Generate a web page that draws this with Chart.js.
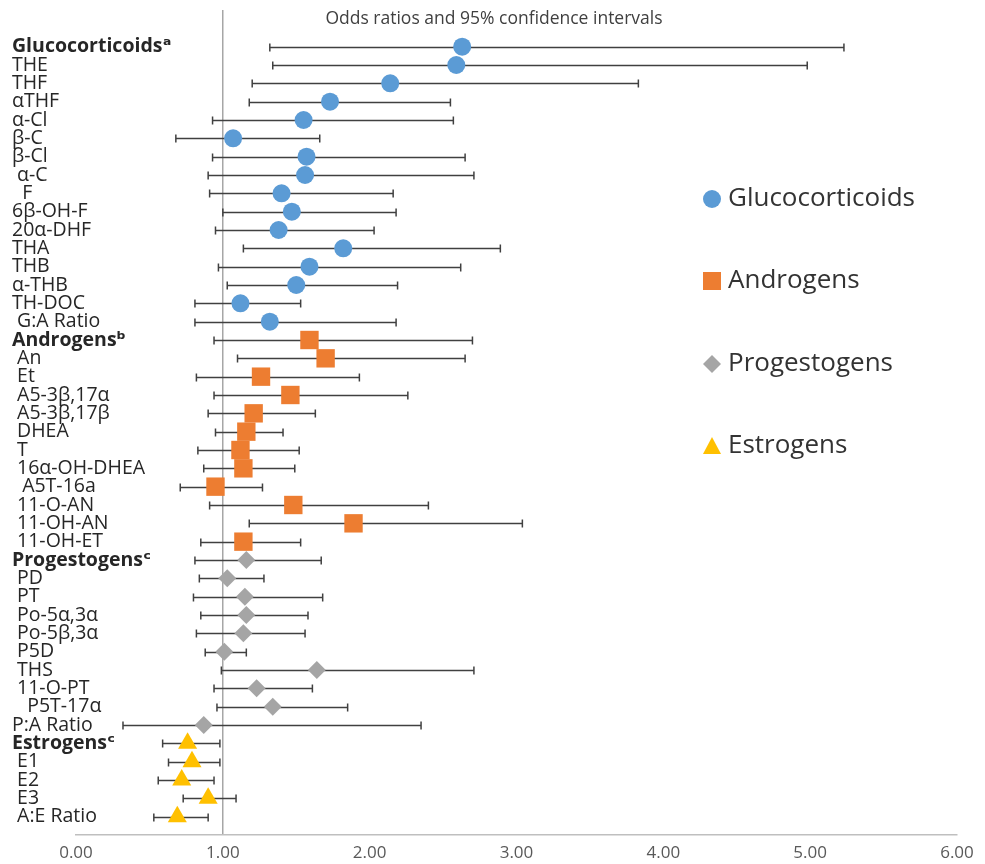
<!DOCTYPE html>
<html>
<head>
<meta charset="utf-8">
<script src="https://cdn.jsdelivr.net/npm/chart.js@4.4.1/dist/chart.umd.min.js"></script>
<style>
html,body{margin:0;padding:0;background:#fff;}
#wrap{position:relative;width:985px;height:864px;}
canvas{display:block;}
</style>
</head>
<body>
<div id="wrap"><canvas id="c" width="985" height="864"></canvas></div>
<script>
// ---------- DATA ----------
const chartTitle = 'Odds ratios and 95% confidence intervals';
const groupNames = ['Glucocorticoids', 'Androgens', 'Progestogens', 'Estrogens'];

const glucoLabels = ['Glucocorticoidsᵃ', 'THE', 'THF', 'αTHF', 'α-Cl', 'β-C', 'β-Cl', ' α-C', '  F', '6β-OH-F', '20α-DHF', 'THA', 'THB', 'α-THB', 'TH-DOC', ' G:A Ratio'];
const glucoOR   = [2.63, 2.59, 2.14, 1.73, 1.55, 1.07, 1.57, 1.56, 1.40, 1.47, 1.38, 1.82, 1.59, 1.50, 1.12, 1.32];
const glucoLow  = [1.32, 1.34, 1.20, 1.18, 0.93, 0.68, 0.93, 0.90, 0.91, 1.00, 0.95, 1.14, 0.97, 1.03, 0.81, 0.81];
const glucoHigh = [5.23, 4.98, 3.83, 2.55, 2.57, 1.66, 2.65, 2.71, 2.16, 2.18, 2.03, 2.89, 2.62, 2.19, 1.53, 2.18];

const androLabels = ['Androgensᵇ', ' An', ' Et', ' A5-3β,17α', ' A5-3β,17β', ' DHEA', ' T', ' 16α-OH-DHEA', '  A5T-16a', ' 11-O-AN', ' 11-OH-AN', ' 11-OH-ET'];
const androOR   = [1.59, 1.70, 1.26, 1.46, 1.21, 1.16, 1.12, 1.14, 0.95, 1.48, 1.89, 1.14];
const androLow  = [0.94, 1.10, 0.82, 0.94, 0.90, 0.95, 0.83, 0.87, 0.71, 0.91, 1.18, 0.85];
const androHigh = [2.70, 2.65, 1.93, 2.26, 1.63, 1.41, 1.52, 1.49, 1.27, 2.40, 3.04, 1.53];

const progLabels = ['Progestogensᶜ', ' PD', ' PT', ' Po-5α,3α', ' Po-5β,3α', ' P5D', ' THS', ' 11-O-PT', '   P5T-17α', 'P:A Ratio'];
const progOR   = [1.16, 1.03, 1.15, 1.16, 1.14, 1.01, 1.64, 1.23, 1.34, 0.87];
const progLow  = [0.81, 0.84, 0.80, 0.85, 0.82, 0.88, 0.99, 0.94, 0.96, 0.32];
const progHigh = [1.67, 1.28, 1.68, 1.58, 1.56, 1.16, 2.71, 1.61, 1.85, 2.35];

const estroLabels = ['Estrogensᶜ', ' E1', ' E2', ' E3', ' A:E Ratio'];
const estroOR   = [0.76, 0.79, 0.72, 0.90, 0.69];
const estroLow  = [0.59, 0.63, 0.56, 0.73, 0.53];
const estroHigh = [0.98, 0.98, 0.94, 1.09, 0.90];

// ---------- STYLE ----------
const FONT = "'Open Sans', 'DejaVu Sans', sans-serif";
const styles = [
  {color: '#5B9BD5', style: 'circle',   r: 9},
  {color: '#ED7D31', style: 'rect',     r: 13},
  {color: '#A5A5A5', style: 'rectRot',  r: 9},
  {color: '#FFC000', style: 'triangle', r: 11}
];
const groups = [
  {labels: glucoLabels, or: glucoOR, lo: glucoLow, hi: glucoHigh},
  {labels: androLabels, or: androOR, lo: androLow, hi: androHigh},
  {labels: progLabels,  or: progOR,  lo: progLow,  hi: progHigh},
  {labels: estroLabels, or: estroOR, lo: estroLow, hi: estroHigh}
];

const rowLabels = [];
const headerRows = new Set();
const datasets = groups.map((g, gi) => {
  const start = rowLabels.length;
  headerRows.add(start);
  rowLabels.push(...g.labels);
  const s = styles[gi];
  return {
    label: groupNames[gi],
    data: g.or.map((v, i) => ({x: v, y: start + i})),
    lo: g.lo, hi: g.hi,
    showLine: false,
    pointStyle: s.style,
    pointRadius: s.r,
    pointHoverRadius: s.r,
    backgroundColor: s.color,
    borderColor: s.color,
    borderWidth: 0
  };
});

// ---------- PLUGINS ----------
const errorBars = {
  id: 'errorBars',
  beforeDatasetsDraw(chart) {
    const {ctx} = chart;
    const x = chart.scales.x, y = chart.scales.y;
    ctx.save();
    ctx.strokeStyle = '#404040';
    ctx.lineWidth = 1.5;
    chart.data.datasets.forEach(ds => {
      ds.data.forEach((p, i) => {
        const py = Math.round(y.getPixelForValue(p.y)) + 0.5;
        const x1 = x.getPixelForValue(ds.lo[i]);
        const x2 = x.getPixelForValue(ds.hi[i]);
        ctx.beginPath();
        ctx.moveTo(x1, py); ctx.lineTo(x2, py);
        ctx.moveTo(x1, py - 4); ctx.lineTo(x1, py + 4);
        ctx.moveTo(x2, py - 4); ctx.lineTo(x2, py + 4);
        ctx.stroke();
      });
    });
    ctx.restore();
  }
};

const decorations = {
  id: 'decorations',
  afterDraw(chart) {
    const {ctx} = chart;
    ctx.save();
    // title
    ctx.font = `17.5px ${FONT}`;
    ctx.fillStyle = '#404040';
    ctx.textAlign = 'center';
    ctx.textBaseline = 'middle';
    ctx.fillText(chartTitle, 494, 19);
    // legend
    const lx = 712, tx = 728;
    const ys = [199, 281, 364, 446];
    ctx.font = `26px ${FONT}`;
    ctx.textAlign = 'left';
    ctx.textBaseline = 'middle';
    styles.forEach((s, i) => {
      const cy = ys[i];
      ctx.fillStyle = s.color;
      ctx.beginPath();
      if (s.style === 'circle') {
        ctx.arc(lx, cy, 9, 0, Math.PI * 2);
      } else if (s.style === 'rect') {
        ctx.rect(lx - 9, cy - 9, 18, 18);
      } else if (s.style === 'rectRot') {
        ctx.moveTo(lx - 9, cy); ctx.lineTo(lx, cy - 9); ctx.lineTo(lx + 9, cy); ctx.lineTo(lx, cy + 9); ctx.closePath();
      } else {
        ctx.moveTo(lx, cy - 9); ctx.lineTo(lx + 9, cy + 8); ctx.lineTo(lx - 9, cy + 8); ctx.closePath();
      }
      ctx.fill();
      ctx.fillStyle = '#333333';
      ctx.fillText(groupNames[i], tx, cy);
    });
    ctx.restore();
  }
};

// ---------- CHART ----------
new Chart(document.getElementById('c'), {
  type: 'scatter',
  data: {datasets},
  options: {
    responsive: false,
    animation: false,
    events: [],
    layout: {autoPadding: false, padding: {left: 12, right: 28, top: 10, bottom: 0}},
    plugins: {legend: {display: false}, tooltip: {enabled: false}, title: {display: false}},
    scales: {
      x: {
        type: 'linear', min: 0, max: 6,
        ticks: {stepSize: 1, callback: v => Number(v).toFixed(2), font: {family: FONT, size: 17}, color: '#595959', padding: 8, maxRotation: 0},
        grid: {drawTicks: false, color: c => (c.tick && c.tick.value === 1) ? '#A6A6A6' : 'rgba(0,0,0,0)', lineWidth: 1.5},
        border: {display: true, color: '#BFBFBF', width: 1.5},
        afterFit: ax => { ax.height = 29; }
      },
      y: {
        type: 'linear', reverse: true, min: -2, max: 43,
        afterBuildTicks: ax => { ax.ticks = rowLabels.map((_, i) => ({value: i})); },
        ticks: {
          autoSkip: false, mirror: true, crossAlign: 'near', padding: -64,
          callback: v => rowLabels[Math.round(v)],
          font: c => ({family: FONT, size: 19.5, lineHeight: 1, weight: headerRows.has(c.index) ? 'bold' : 'normal'}),
          color: '#262626'
        },
        grid: {display: false, drawTicks: false},
        border: {display: false},
        afterFit: ax => { ax.width = 64; ax.paddingTop = 0; ax.paddingBottom = 0; }
      }
    }
  },
  plugins: [errorBars, decorations]
});
</script>
</body>
</html>
